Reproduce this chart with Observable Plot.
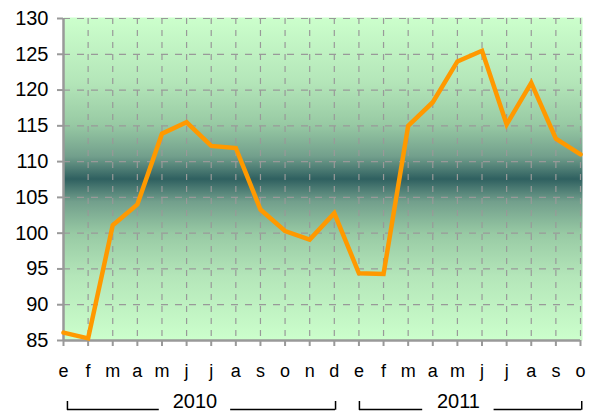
<!DOCTYPE html>
<html>
<head>
<meta charset="utf-8">
<script src="https://cdn.jsdelivr.net/npm/d3@7"></script>
<script src="https://cdn.jsdelivr.net/npm/@observablehq/plot@0.6"></script>
<style>
html,body{margin:0;padding:0;background:#fff;}
</style>
</head>
<body>
<div id="chart"></div>
<script>
const months = ["e","f","m","a","m","j","j","a","s","o","n","d","e","f","m","a","m","j","j","a","s","o"];
const values = [86.1,85.3,101.1,104,113.9,115.5,112.2,111.9,103.3,100.3,99.1,102.8,94.4,94.3,115,118.3,124,125.5,115.2,121,113.2,111];
const yTicks = [85,90,95,100,105,110,115,120,125,130];
const years = ["2010","2011"];
const yearStart = [0.16, 12.02];
const yearEnd = [11.05, 21.05];
const yearMid = [5.34, 16.04];

const idx = months.map((m,i)=>i);
const data = values.map((v,i)=>({i, v}));

const W = 589, H = 412, mT = 18, mB = 72;
// pixel offsets below plot bottom converted to y units for bracket rules
const pxPerUnit = (H - mT - mB) / (130 - 85);
const belowY = px => 85 - px / pxPerUnit;

const segs = [];
const ends = [];
years.forEach((y,k)=>{
  segs.push({a: yearStart[k], b: yearMid[k]-1.45});
  segs.push({a: yearMid[k]+1.45, b: yearEnd[k]});
  ends.push({x: yearStart[k]});
  ends.push({x: yearEnd[k]});
});
const yearLabels = years.map((y,k)=>({x: yearMid[k], t: y}));

const plot = Plot.plot({
  width: W, height: H,
  marginLeft: 63, marginRight: 9, marginTop: mT, marginBottom: mB,
  style: {fontFamily: "'Liberation Sans', Arial, sans-serif", background: "#fff", color: "#000", overflow: "visible"},
  x: {type: "linear", domain: [0, 21], axis: null, label: null},
  y: {domain: [85, 130], axis: null, label: null},
  marks: [
    Plot.frame({fill: "url(#bgGrad)", stroke: "none", insetRight: -2, insetTop: -1}),
    Plot.gridY(yTicks.slice(1), {stroke: "#999", strokeOpacity: 1, strokeWidth: 1.2, strokeDasharray: "7,7"}),
    Plot.gridX(idx.slice(1), {stroke: "#999", strokeOpacity: 1, strokeWidth: 1.2, strokeDasharray: "6,6"}),
    Plot.ruleY([85], {stroke: "#999", strokeWidth: 2.5}),
    Plot.ruleX([0], {stroke: "#999", strokeWidth: 2.5}),
    Plot.axisY(yTicks, {label: null, tickSize: 6, tickPadding: 9, fontSize: 20, stroke: "#999", strokeWidth: 2, fill: "#000"}),
    Plot.axisX(idx, {label: null, tickSize: 6, tickPadding: 18, fontSize: 18, stroke: "#999", strokeWidth: 2, fill: "#000", tickFormat: i => months[i]}),
    Plot.line(data, {x: "i", y: "v", stroke: "#ff9900", strokeWidth: 4.5, strokeLinejoin: "miter", strokeMiterlimit: 3}),
    Plot.ruleY(segs, {y: belowY(69), x1: "a", x2: "b", stroke: "#000", strokeWidth: 1.5, clip: false}),
    Plot.ruleX(ends, {x: "x", y1: belowY(61), y2: belowY(69.7), stroke: "#000", strokeWidth: 1.5, clip: false}),
    Plot.text(yearLabels, {x: "x", y: belowY(67.5), text: "t", fontSize: 20, fill: "#000", lineAnchor: "bottom", clip: false})
  ]
});

const svg = d3.select(plot);
const defs = svg.insert("defs", ":first-child");
const g = defs.append("linearGradient").attr("id", "bgGrad").attr("x1", 0).attr("y1", 0).attr("x2", 0).attr("y2", 1);
[[0,"#ccffcc"],[0.2,"#b4e6b9"],[0.33,"#98caa4"],[0.43,"#729f8c"],[0.5,"#2f6060"],[0.57,"#729f8c"],[0.67,"#98caa4"],[0.8,"#b4e6b9"],[1,"#ccffcc"]]
  .forEach(([o,c]) => g.append("stop").attr("offset", o).attr("stop-color", c));

document.getElementById("chart").appendChild(plot);
</script>
</body>
</html>
